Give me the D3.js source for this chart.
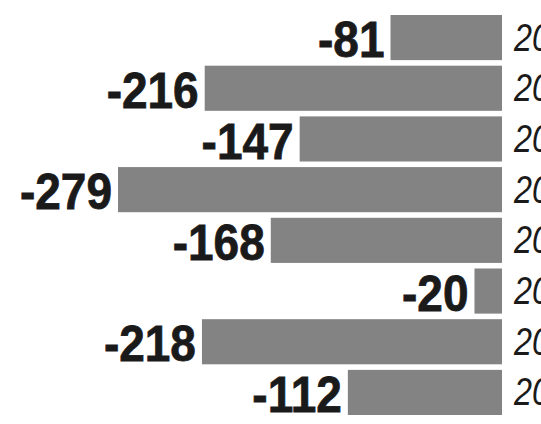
<!DOCTYPE html>
<html><head><meta charset="utf-8">
<script src="https://cdn.jsdelivr.net/npm/d3@7"></script>
<style>html,body{margin:0;padding:0;background:#fff;overflow:hidden}</style>
</head><body><svg id="c" width="541" height="424"></svg>
<script>
const years = ["2010","2011","2012","2013","2014","2015","2016","2017"];
const values = [-81,-216,-147,-279,-168,-20,-218,-112];

const svg = d3.select("#c");
const right = 502;
const x = d3.scaleLinear().domain([-279, 0]).range([118, right]);
const y = d3.scaleBand().domain(years).range([15, 415]).paddingInner(0.11).paddingOuter(0);

svg.selectAll("rect.bar").data(values).join("rect")
  .attr("class","bar")
  .attr("x", d => x(d)).attr("width", d => x(0) - x(d))
  .attr("y", (d,i) => y(years[i])).attr("height", y.bandwidth())
  .attr("fill", "#838383");

svg.selectAll("text.val").data(values).join("text")
  .attr("class","val")
  .attr("transform", (d,i) => `translate(${x(d) - 6},${y(years[i]) + y.bandwidth() - 3}) scale(0.92,1)`)
  .attr("text-anchor","end")
  .attr("font-family","'Liberation Sans', Arial, sans-serif")
  .attr("font-weight","bold")
  .attr("font-size", 50)
  .attr("stroke","#1a1a1a")
  .attr("stroke-width", 0.8)
  .attr("fill","#1a1a1a")
  .text(d => d);

svg.selectAll("text.yr").data(years).join("text")
  .attr("class","yr")
  .attr("transform", d => `translate(514,${y(d) + y.bandwidth()/2 + 13}) scale(0.85,1)`)
  .attr("font-family","'Liberation Sans', Arial, sans-serif")
  .attr("font-style","italic")
  .attr("font-size", 38)
  .attr("fill","#1a1a1a")
  .text(d => d);
</script></body></html>
